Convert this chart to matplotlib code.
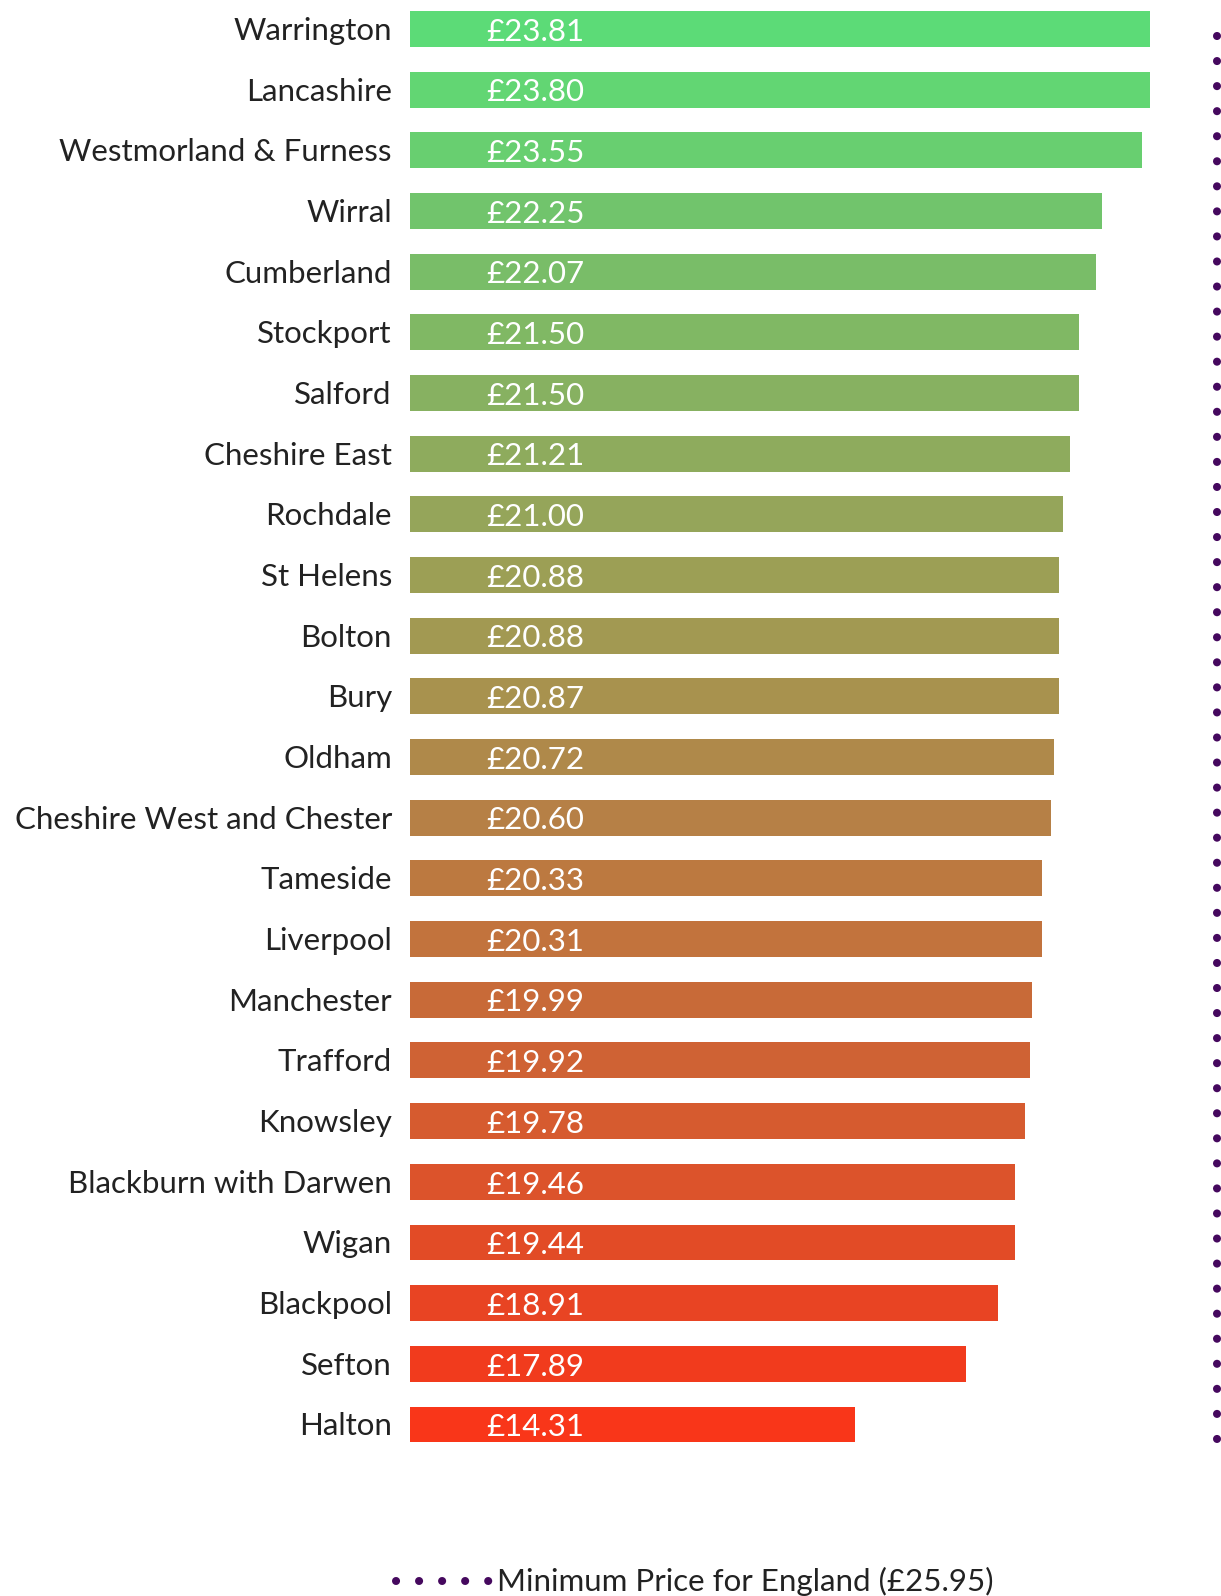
import matplotlib
matplotlib.use("Agg")
import matplotlib.pyplot as plt
from matplotlib.lines import Line2D

# Minimum hourly price by local authority (£)
areas = [
    "Warrington", "Lancashire", "Westmorland & Furness", "Wirral", "Cumberland",
    "Stockport", "Salford", "Cheshire East", "Rochdale", "St Helens", "Bolton",
    "Bury", "Oldham", "Cheshire West and Chester", "Tameside", "Liverpool",
    "Manchester", "Trafford", "Knowsley", "Blackburn with Darwen", "Wigan",
    "Blackpool", "Sefton", "Halton",
]
prices = [
    23.81, 23.80, 23.55, 22.25, 22.07, 21.50, 21.50, 21.21, 21.00, 20.88, 20.88,
    20.87, 20.72, 20.60, 20.33, 20.31, 19.99, 19.92, 19.78, 19.46, 19.44, 18.91,
    17.89, 14.31,
]
england_min = 25.95

bar_colors = [
    "#5cdb77", "#62d673", "#68cf70", "#71c46c", "#79bd68", "#80b864", "#87b161",
    "#8eab5d", "#95a55a", "#9c9f55", "#a29952", "#a8924e", "#af894a", "#b68046",
    "#bc7940", "#c2733d", "#c86a38", "#cf6234", "#d65b2f", "#dc532b", "#e24b26",
    "#e84423", "#f13b1d", "#f93619",
]

W, H = 1221, 1596
fig = plt.figure(figsize=(W / 100, H / 100), dpi=100)

ax_left, ax_top, ax_bottom = 410, 0, 1470
px_per_unit = 31.1
row0, pitch = 29, 60.67

ax = fig.add_axes([ax_left / W, 1 - ax_bottom / H, (W - ax_left) / W, (ax_bottom - ax_top) / H])
ax.set_xlim(0, (W - ax_left) / px_per_unit)
ax.set_ylim((ax_bottom - row0) / pitch, (ax_top - row0) / pitch)
ax.axis("off")

font = ["Lato", "DejaVu Sans"]
fs = 22.5
ypos = list(range(len(areas)))
ax.barh(ypos, prices, height=0.59, color=bar_colors, left=0)

for y, name, val in zip(ypos, areas, prices):
    ax.annotate(name, xy=(0, y), xytext=(-13, -1.5), textcoords="offset points",
                ha="right", va="center", fontsize=fs, color="#222222", family=font)
    ax.annotate(f"£{val:.2f}", xy=(0, y), xytext=(55, -2), textcoords="offset points",
                ha="left", va="center", fontsize=fs, color="white", family=font)

# England minimum price reference line
dot_color = "#45085e"
dot_style = dict(color=dot_color, linewidth=5.8, linestyle=(0, (0.01, 3.1)),
                 dash_capstyle="round")
ax.axvline(england_min, ymin=(ax_bottom - 1439) / ax_bottom, ymax=(ax_bottom - 19) / ax_bottom,
           clip_on=False, **dot_style)

handle = Line2D([0], [0], color=dot_color, linewidth=5.8, linestyle=(0, (0.01, 2.85)),
                dash_capstyle="round")
fig.legend([handle], [f"Minimum Price for England (£{england_min:.2f})"],
           loc="lower left", bbox_to_anchor=(383 / W, -13 / H), frameon=False,
           handlelength=3.0, handletextpad=0.25, borderaxespad=0,
           prop={"family": font, "size": fs}, labelcolor="#222222")

fig.savefig("out.png", dpi=100, facecolor="white")
